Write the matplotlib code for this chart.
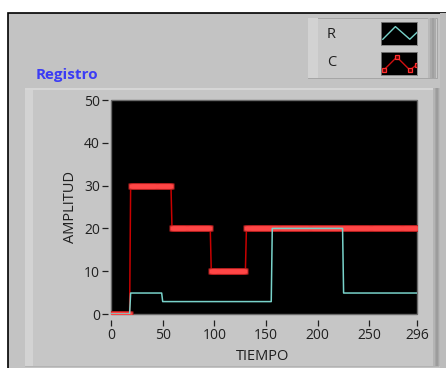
import matplotlib.pyplot as plt
import numpy as np
from matplotlib.patches import Rectangle

W, H = 446, 368

# datos del registro (una muestra por unidad de tiempo)
tiempo = np.arange(0, 297)
c_niveles = [0, 30, 20, 10, 20]
c_duracion = [19, 40, 38, 34, 166]
r_niveles = [0, 4.9, 2.9, 20, 4.9]
r_duracion = [19, 31, 106, 69, 72]

x_ticks = [0, 50, 100, 150, 200, 250, 296]
y_ticks = [0, 10, 20, 30, 40, 50]

C = np.repeat(c_niveles, c_duracion)
R = np.repeat(r_niveles, r_duracion)

plt.rcParams['font.family'] = ['Open Sans', 'DejaVu Sans']
txt = '#202020'


def fx(x):
    return x / W


def fy(y):
    return 1 - y / H


def rect(x0, y0, x1, y1, color, **kw):
    fig.patches.append(Rectangle((fx(x0), fy(y1)), fx(x1 - x0), (y1 - y0) / H,
                                 transform=fig.transFigure, facecolor=color,
                                 zorder=-5, **kw))


fig = plt.figure(figsize=(W / 100, H / 100), dpi=100)
fig.patch.set_facecolor('white')

# marco exterior y paneles
rect(8, 13, 450, 372, '#c3c3c3', edgecolor='black', linewidth=1.2)
rect(25, 88, 438, 366, '#c6c6c6', edgecolor='#b0b0b0', linewidth=0.6)
rect(25, 88, 33, 366, '#d3d3d3')
rect(25, 88, 438, 90, '#d6d6d6')
for i, c in enumerate(['#b4b4b4', '#a6a6a6', '#9c9c9c', '#a8a8a8', '#b6b6b6']):
    rect(433 + i * 1.5, 88, 434.5 + i * 1.5, 366, c)
rect(440, 13, 446, 368, '#bcbcbc')

# panel de la leyenda
rect(308, 18, 437, 78, '#c8c8c8', edgecolor='#a0a0a0', linewidth=0.6)
rect(308, 18, 318, 78, '#d2d2d2')
for i, c in enumerate(['#b8b8b8', '#aaaaaa', '#a0a0a0', '#aaaaaa']):
    rect(428 + i * 2, 18, 430 + i * 2, 78, c)

# grafico principal
ax = fig.add_axes([fx(111), fy(314), (417 - 111) / W, (314 - 100) / H])
ax.set_facecolor('black')
ax.patch.set_edgecolor('#6a6a6a')
ax.patch.set_linewidth(1.0)

ax.plot(tiempo, C, color='#c80000', lw=1.1, zorder=2)
ax.plot(tiempo, C, ls='none', marker='s', ms=4.6, mfc='#b82020', mec='none', zorder=3)
ax.plot(tiempo, C, ls='none', marker='s', ms=3.5, mfc='#ff4646', mec='none', zorder=4)
ax.plot(tiempo, R, color='#78d2ca', lw=1.1, zorder=5)

ax.set_xlim(0, 296)
ax.set_ylim(0, 50)
ax.set_xticks(x_ticks)
ax.set_yticks(y_ticks)
for s in ['top', 'right']:
    ax.spines[s].set_visible(False)
ax.spines['left'].set_position(('outward', 2))
ax.spines['bottom'].set_position(('outward', 4))
ax.spines['left'].set_color('none')
ax.spines['bottom'].set_color('none')
ax.tick_params(axis='both', length=4, width=0.9, color=txt, labelcolor=txt,
               labelsize=10, pad=2)

fig.text(fx(70), fy(207), 'AMPLITUD', rotation=90, ha='center', va='center',
         fontsize=10.5, color=txt)
fig.text(fx(262.5), fy(356), 'TIEMPO', ha='center', va='center',
         fontsize=10.5, color=txt)
fig.text(fx(36), fy(79), 'Registro', ha='left', va='baseline',
         fontsize=11, fontweight='bold', color='#3c3cf5')

# leyenda
fig.text(fx(327), fy(34), 'R', ha='left', va='center', fontsize=10.5, color=txt)
fig.text(fx(327), fy(63), 'C', ha='left', va='center', fontsize=10.5, color=txt)

lr = fig.add_axes([fx(381), fy(45), 36 / W, 23 / H])
lr.set_facecolor('black')
lr.plot([0.05, 0.4, 0.8, 1.0], [0.25, 0.8, 0.25, 0.55], color='#78d2ca', lw=1.0)
lc = fig.add_axes([fx(381), fy(75), 36 / W, 23 / H])
lc.set_facecolor('black')
lc.plot([0.08, 0.44, 0.8, 1.0], [0.22, 0.78, 0.22, 0.45], color='#d01010', lw=1.0,
        marker='s', ms=3.2, mfc='#600000', mec='#ff3030', mew=0.9)
for a in (lr, lc):
    a.set_xlim(0, 1)
    a.set_ylim(0, 1)
    a.set_xticks([])
    a.set_yticks([])
    for s in a.spines.values():
        s.set_color('#808080')
        s.set_linewidth(0.6)

fig.savefig('out.png', dpi=100)
